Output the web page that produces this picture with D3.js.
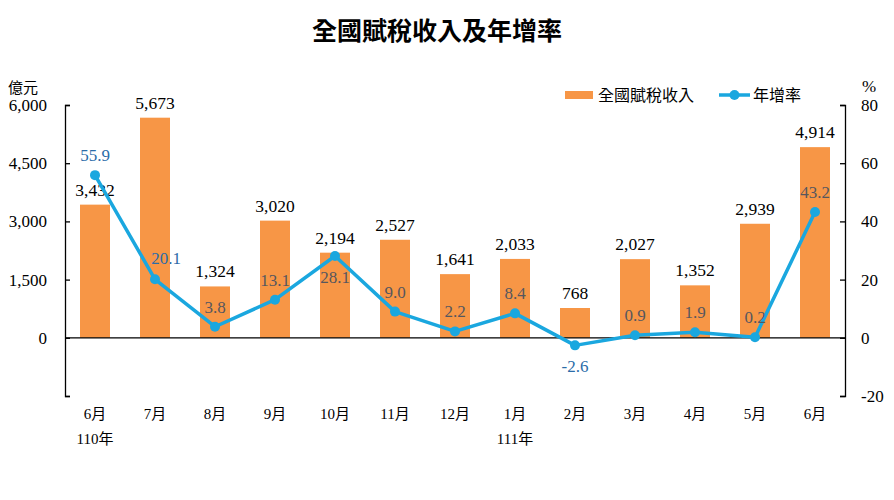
<!DOCTYPE html>
<html>
<head>
<meta charset="utf-8">
<script src="https://cdn.jsdelivr.net/npm/d3@7"></script>
<style>
  body{margin:0;background:#fff}
  svg{display:block}
  .num{font-family:"Liberation Serif","Times New Roman","Noto Sans CJK TC",serif}
  .cjk{font-family:"Noto Sans CJK TC","Noto Sans CJK SC",sans-serif}
</style>
</head>
<body>
<svg id="chart" width="894" height="500"></svg>
<script>
'use strict';

/* data */
const MONTHS=['6月','7月','8月','9月','10月','11月','12月','1月','2月','3月','4月','5月','6月'];
const YEARS=['110年','','','','','','','111年','','','','',''];
const REVENUE=[3432,5673,1324,3020,2194,2527,1641,2033,768,2027,1352,2939,4914];
const GROWTH=[55.9,20.1,3.8,13.1,28.1,9.0,2.2,8.4,-2.6,0.9,1.9,0.2,43.2];
const LEFT_TICKS=[0,1500,3000,4500,6000];
const RIGHT_TICKS=[-20,0,20,40,60,80];
// where each growth label sits relative to its point
const GROWTH_LABEL_POS=['above','right','above','above','below','above','above','above','below','above','above','above','above'];

const ORANGE='#F79646';
const BLUE='#1AA7DF';
const LABEL_BLUE='#2B6CA8';
const LABEL_ON_BAR='#56575E';

const svg=d3.select('#chart');

const x0=65, x1=845, yTop=105, yBot=396;

const x=d3.scaleBand().domain(d3.range(MONTHS.length)).range([x0,x1]).paddingInner(0.5).paddingOuter(0.25);
const yL=d3.scaleLinear().domain([-1500,6000]).range([yBot,yTop]);
const yR=d3.scaleLinear().domain([-20,80]).range([yBot,yTop]);
const cx=i=>x(i)+x.bandwidth()/2;
const fmtSigned=f=>d=>f(d).replace('\u2212','-');

/* title */
svg.append('text')
  .attr('class','cjk')
  .attr('x',437).attr('y',40)
  .attr('text-anchor','middle')
  .attr('font-weight','bold')
  .attr('font-size',25)
  .attr('fill','#000')
  .text('全國賦稅收入及年增率');

/* bars */
svg.append('g').selectAll('rect')
  .data(REVENUE)
  .join('rect')
  .attr('x',(d,i)=>x(i))
  .attr('width',x.bandwidth())
  .attr('y',d=>yL(d))
  .attr('height',d=>yL(0)-yL(d))
  .attr('fill',ORANGE);

/* zero line */
svg.append('line')
  .attr('x1',x0).attr('x2',x1)
  .attr('y1',yL(0)).attr('y2',yL(0))
  .attr('stroke','#000').attr('stroke-width',1.3);

/* axes */
const axL=d3.axisLeft(yL).tickValues([-1500,...LEFT_TICKS]).tickSize(-5)
  .tickFormat(d=>d<0?'':d3.format(',')(d)).tickPadding(18);
const gL=svg.append('g').attr('transform',`translate(${x0},0)`).call(axL);
const axR=d3.axisRight(yR).tickValues(RIGHT_TICKS).tickSize(-5)
  .tickFormat(fmtSigned(d3.format('d'))).tickPadding(16);
const gR=svg.append('g').attr('transform',`translate(${x1},0)`).call(axR);
[gL,gR].forEach(g=>{
  g.attr('font-family',null);
  g.select('.domain').attr('stroke','#000').attr('stroke-width',1.3);
  g.selectAll('.tick line').attr('stroke','#000').attr('stroke-width',1.3);
  g.selectAll('.tick text').attr('class','num').attr('font-size',17).attr('fill','#000');
});

/* unit labels */
svg.append('text').attr('class','cjk').attr('x',8).attr('y',93)
  .attr('font-size',15).attr('fill','#000')
  .text('億元');
svg.append('text').attr('class','num').attr('x',862).attr('y',92)
  .attr('font-size',17).attr('fill','#000')
  .text('%');

/* x labels */
const xl=svg.append('g');
xl.selectAll('text.m')
  .data(MONTHS)
  .join('text')
  .attr('class','m num')
  .attr('x',(d,i)=>cx(i))
  .attr('y',419)
  .attr('text-anchor','middle')
  .attr('font-size',15).attr('fill','#000')
  .text(d=>d);
xl.selectAll('text.yr')
  .data(YEARS)
  .join('text')
  .attr('class','yr num')
  .attr('x',(d,i)=>cx(i))
  .attr('y',444)
  .attr('text-anchor','middle')
  .attr('font-size',15).attr('fill','#000')
  .text(d=>d);

/* bar value labels */
svg.append('g').selectAll('text')
  .data(REVENUE)
  .join('text')
  .attr('class','num')
  .attr('x',(d,i)=>cx(i))
  .attr('y',d=>yL(d)-9)
  .attr('text-anchor','middle')
  .attr('font-size',17.5).attr('fill','#000')
  .text(d=>d3.format(',')(d));

/* growth line */
const line=d3.line().x((d,i)=>cx(i)).y(d=>yR(d));
svg.append('path')
  .datum(GROWTH)
  .attr('d',line)
  .attr('fill','none')
  .attr('stroke',BLUE)
  .attr('stroke-width',3.5)
  .attr('stroke-linejoin','round');
svg.append('g').selectAll('circle')
  .data(GROWTH)
  .join('circle')
  .attr('cx',(d,i)=>cx(i))
  .attr('cy',d=>yR(d))
  .attr('r',5)
  .attr('fill',BLUE);

/* growth labels */
function labelY(d,i){
  const p=GROWTH_LABEL_POS[i];
  if(p==='below') return yR(d)+27;
  if(p==='right') return yR(d)-15;
  return yR(d)-14;
}
svg.append('g').selectAll('text')
  .data(GROWTH)
  .join('text')
  .attr('class','num')
  .attr('x',(d,i)=>cx(i)+(GROWTH_LABEL_POS[i]==='right'?11:0))
  .attr('y',labelY)
  .attr('text-anchor','middle')
  .attr('font-size',17)
  .attr('fill',(d,i)=>{
    const mid=labelY(d,i)-6;
    const onBar=mid>yL(REVENUE[i]) && mid<yL(0) && GROWTH_LABEL_POS[i]!=='right';
    return onBar?LABEL_ON_BAR:LABEL_BLUE;
  })
  .text(fmtSigned(d3.format('.1f')));

/* legend */
const lg=svg.append('g');
lg.append('rect').attr('x',565).attr('y',91).attr('width',28).attr('height',8).attr('fill',ORANGE);
lg.append('text').attr('class','cjk').attr('x',598).attr('y',101)
  .attr('font-size',16).attr('fill','#000')
  .text('全國賦稅收入');
lg.append('line').attr('x1',719).attr('x2',750).attr('y1',95).attr('y2',95)
  .attr('stroke',BLUE).attr('stroke-width',3.5);
lg.append('circle').attr('cx',734.5).attr('cy',95).attr('r',5).attr('fill',BLUE);
lg.append('text').attr('class','cjk').attr('x',753).attr('y',101)
  .attr('font-size',16).attr('fill','#000')
  .text('年增率');
</script>
</body>
</html>
